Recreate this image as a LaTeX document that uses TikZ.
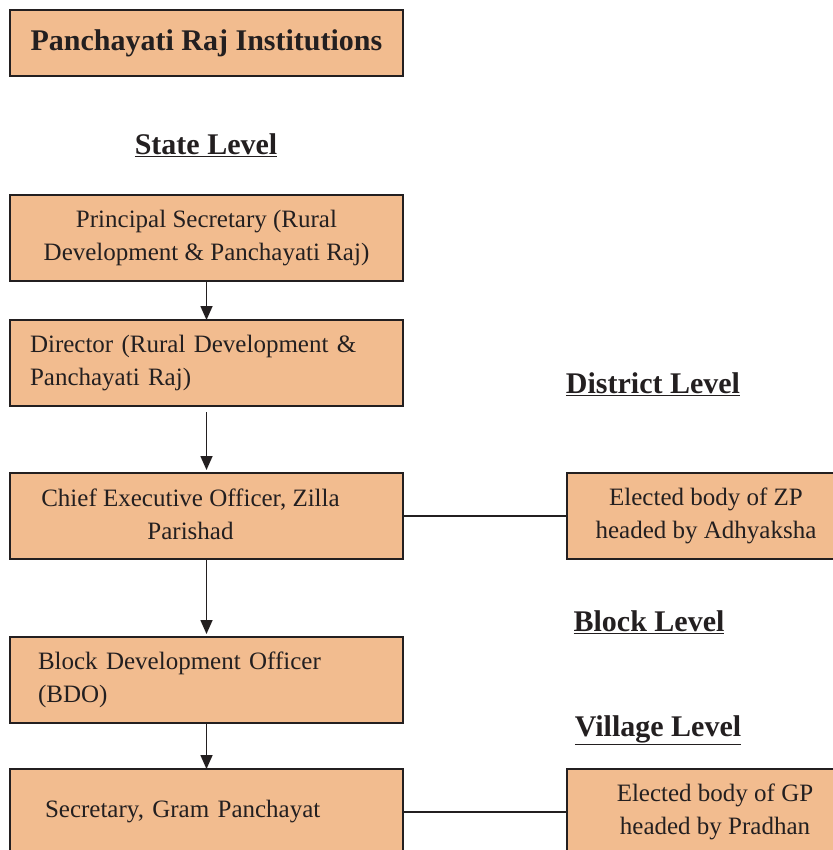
\documentclass[tikz,border=0pt]{standalone}
\usepackage{fontspec}
\setmainfont{Liberation Serif}
\usetikzlibrary{arrows.meta,positioning}
\definecolor{prifill}{RGB}{242,188,143}
\definecolor{priline}{RGB}{35,31,32}

\begin{document}
\begin{tikzpicture}[x=1pt,y=-1pt,>={Triangle[length=14pt,width=12pt]},
    every node/.style={align=center,text=priline},
    font=\fontsize{25}{33}\selectfont,
    orgbox/.style={draw=priline,line width=2pt,fill=prifill,minimum width=393pt,minimum height=86pt,inner sep=0pt,outer sep=0pt},
    sidebox/.style={orgbox,minimum width=278pt},
    levelhead/.style={font=\fontsize{30}{36}\selectfont\bfseries},
    link/.style={priline,line width=1.6pt}]
    \useasboundingbox (0,0) rectangle (832,850);
    \node[orgbox,minimum height=66pt,levelhead] (title) at (206.5,43) {Panchayati Raj Institutions};
    \node[levelhead] (state) at (206,145) {\underline{State Level}};
    \node[orgbox] (psec) at (206.5,238) {Principal Secretary (Rural\\Development \& Panchayati Raj)};
    \node[orgbox,below=39pt of psec,text width=353pt,align=left] (dir) {Director (Rural Development \&\\Panchayati Raj)};
    \node[orgbox,below=67pt of dir,label={[xshift=-16pt,yshift=2pt]center:Chief Executive Officer, Zilla\\Parishad}] (ceo) {};
    \node[orgbox,below=78pt of ceo,text width=337pt,align=left] (bdo) {Block Development Officer\\(BDO)};
    \node[orgbox,below=46pt of bdo,text width=323pt,align=left] (gps) {Secretary, Gram Panchayat};
    \node[sidebox,right=164pt of ceo] (zp) {Elected body of ZP\\headed by Adhyaksha};
    \node[sidebox,right=164pt of gps,minimum width=296pt] (gp) {Elected body of GP\\headed by Pradhan};
    \node[levelhead] (district) at (653,384) {\underline{District Level}};
    \node[levelhead] (block) at (649,622) {\underline{Block Level}};
    \node[levelhead] (village) at (658,730) {\underline{Village Level}};
    \draw[link,->] (psec) -- (dir);
    \draw[link,->,shorten <=6pt,shorten >=3pt] (dir) -- (ceo);
    \draw[link,->,shorten >=3pt] (ceo) -- (bdo);
    \draw[link,->] (bdo) -- (gps);
    \draw[link] (ceo) -- (zp);
    \draw[link] (gps) -- (gp);
\end{tikzpicture}
\end{document}
